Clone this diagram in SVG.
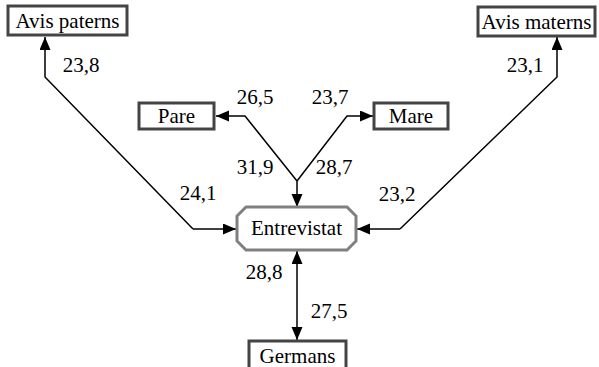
<svg xmlns="http://www.w3.org/2000/svg" width="599" height="367" viewBox="0 0 599 367">
<style>
text{font-family:"Liberation Serif","Times New Roman",serif;font-size:21px;fill:#000;text-anchor:middle}
.box{fill:#fff;stroke:#444;stroke-width:3}
.oct{fill:#fff;stroke:#808080;stroke-width:3}
.ln{fill:none;stroke:#000;stroke-width:1.5}
</style>
<defs>
<marker id="ah" markerUnits="userSpaceOnUse" markerWidth="14" markerHeight="12" refX="13" refY="5.5" orient="auto-start-reverse">
<path d="M0,0 L13,5.5 L0,11 Z" fill="#000"/>
</marker>
</defs>
<g id="connectors">
<path class="ln" d="M193,229 L45,77 L45,37" marker-end="url(#ah)"/>
<path class="ln" d="M193,229 L236,229" marker-end="url(#ah)"/>
<path class="ln" d="M400,229 L557,77 L557,37" marker-end="url(#ah)"/>
<path class="ln" d="M400,229 L357,229" marker-end="url(#ah)"/>
<path class="ln" d="M297,181 L245,116 L216,116" marker-end="url(#ah)"/>
<path class="ln" d="M297,181 L347,116 L373,116" marker-end="url(#ah)"/>
<path class="ln" d="M297,181 L297,207" marker-end="url(#ah)"/>
<path class="ln" d="M297,251 L297,340" marker-start="url(#ah)" marker-end="url(#ah)"/>
</g>
<g id="avis-paterns"><rect class="box" x="8" y="6" width="119" height="29"/><text x="67.5" y="28">Avis paterns</text></g>
<g id="avis-materns"><rect class="box" x="478" y="7" width="117" height="29"/><text x="536.5" y="29">Avis materns</text></g>
<g id="pare"><rect class="box" x="139" y="103" width="75" height="26"/><text x="176.5" y="123">Pare</text></g>
<g id="mare"><rect class="box" x="374" y="103" width="74" height="26"/><text x="411" y="123">Mare</text></g>
<g id="entrevistat"><polygon class="oct" points="246,207 347,207 356,216 356,241 347,250 246,250 237,241 237,216"/><text x="296.5" y="235">Entrevistat</text></g>
<g id="germans"><rect class="box" x="249" y="341" width="97" height="32"/><text x="297.5" y="363">Germans</text></g>
<g id="labels">
<text x="81" y="72">23,8</text>
<text x="525" y="72">23,1</text>
<text x="255" y="104">26,5</text>
<text x="330" y="104">23,7</text>
<text x="255" y="174">31,9</text>
<text x="334" y="174">28,7</text>
<text x="198" y="200">24,1</text>
<text x="397" y="201">23,2</text>
<text x="264" y="279">28,8</text>
<text x="329" y="318">27,5</text>
</g>
</svg>
